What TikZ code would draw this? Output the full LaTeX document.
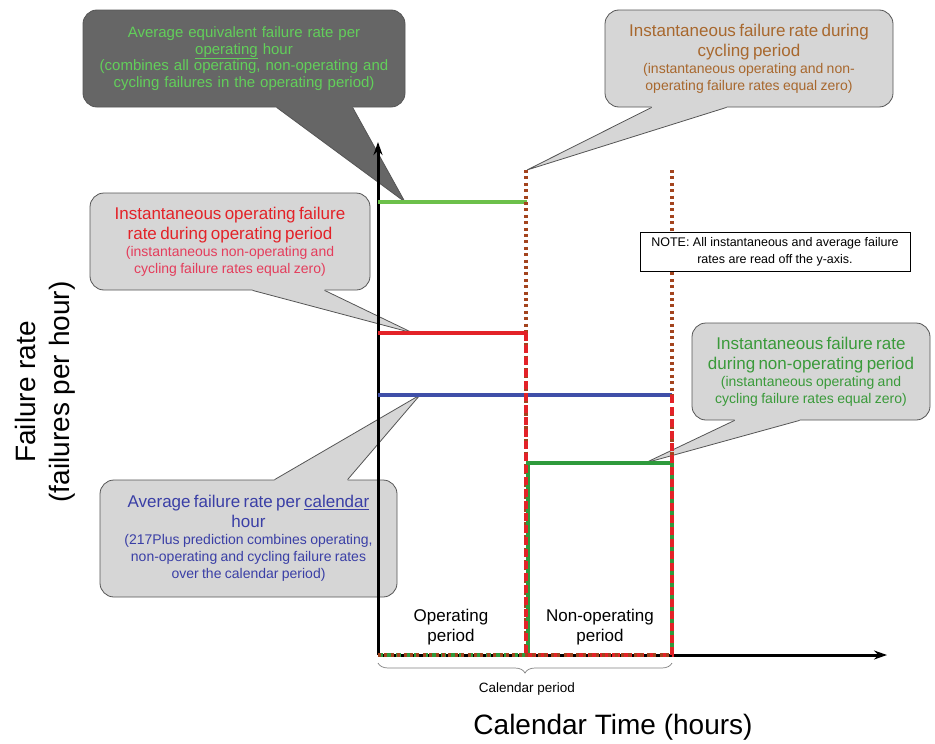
\documentclass[tikz,border=0pt]{standalone}
\usepackage{fontspec}
\setmainfont{Liberation Sans}
\usepackage{tikz}
\usetikzlibrary{arrows.meta,positioning,calc,decorations.pathreplacing}
\usepackage{xcolor}
\definecolor{boxgray}{HTML}{D6D6D6}
\definecolor{boxdark}{HTML}{666666}
\definecolor{edgegray}{HTML}{555555}
\definecolor{lgreen}{HTML}{6CC04A}
\definecolor{tgreen}{HTML}{62CF5A}
\definecolor{rred}{HTML}{E32228}
\definecolor{tpink}{HTML}{E43D5C}
\definecolor{rblue}{HTML}{3F4FA8}
\definecolor{tblue}{HTML}{3A3FA6}
\definecolor{dgreen}{HTML}{2E9A3C}
\definecolor{tdgreen}{HTML}{3A9A3A}
\definecolor{rbrown}{HTML}{A3441E}
\definecolor{tbrown}{HTML}{A8682E}

\newcommand{\calhead}{\fontsize{17}{20}\selectfont}
\newcommand{\calsmall}{\fontsize{14}{17}\selectfont}
% pointer of a callout: corner, x1, x2, inward shift, tip, fill
\newcommand{\callptr}[6]{%
  \fill[#6] ($(#1)+(#2,#4)$) -- ($(#1)+(#2,0)$) -- (#5) -- ($(#1)+(#3,0)$) -- ($(#1)+(#3,#4)$) -- cycle;
  \draw[calledge] ($(#1)+(#2,0)$) -- (#5) -- ($(#1)+(#3,0)$);}

\tikzset{
  callbox/.style={draw=edgegray,fill=boxgray,line width=0.8pt,rounded corners=14pt,align=center,inner sep=0pt},
  calledge/.style={edgegray,line width=0.8pt},
  rate/.style={line width=3.6pt},
  cycdots/.style={rbrown,line width=3.2pt,dash pattern=on 3pt off 3.4pt},
  reddash/.style={rred,line width=3.6pt,dash pattern=on 8pt off 4pt},
  greendash/.style={dgreen,line width=3.6pt,dash pattern=on 5pt off 4pt},
  axis/.style={line width=3pt,-{Stealth[length=13pt,width=9pt]}},
}

\begin{document}
\begin{tikzpicture}[x=1pt,y=-1pt]
\useasboundingbox (0,0) rectangle (935,744);

% callouts
\node[callbox,fill=boxdark,text=tgreen,minimum width=322pt,minimum height=97pt,text width=314pt,font={\fontsize{15}{16.5}\selectfont}] (avgop) at (244,58.5)
  {Average equivalent failure rate per\\ \underline{operating} hour\\ (combines all operating, non-operating and\\ cycling failures in the operating period)};
\coordinate (optip) at (405,202);
\callptr{avgop.south west}{194}{270}{-2}{optip}{boxdark}

\node[callbox,text=tbrown,minimum width=288pt,minimum height=97pt,text width=280pt] (cyc) at (749,58.5)
  {\calhead Instantaneous failure rate during\\ cycling period\par
   \calsmall (instantaneous operating and non-\\ operating failure rates equal zero)\par};
\coordinate (cyctip) at (527,170);
\callptr{cyc.south west}{47}{122}{-2}{cyctip}{boxgray}

\node[callbox,text=rred,minimum width=280pt,minimum height=97pt,text width=272pt] (instop) at (230,241.5)
  {\calhead Instantaneous operating failure\\ rate during operating period\par
   \color{tpink}\calsmall (instantaneous non-operating and\\ cycling failure rates equal zero)\par};
\coordinate (redtip) at (413,333);
\callptr{instop.south west}{163}{235}{-2}{redtip}{boxgray}

\node[callbox,text=tdgreen,minimum width=238pt,minimum height=97pt,text width=232pt] (nonop) at (811,371.5)
  {\calhead Instantaneous failure rate\\ during non-operating period\par
   \calsmall (instantaneous operating and\\ cycling failure rates equal zero)\par};
\coordinate (nontip) at (645,463);
\callptr{nonop.south west}{43}{108}{-2}{nontip}{boxgray}

\node[callbox,text=tblue,minimum width=297pt,minimum height=117pt,text width=290pt] (avgcal) at (248.5,538.5)
  {\calhead Average failure rate per \underline{calendar}\\ hour\par
   \calsmall (217Plus prediction combines operating,\\ non-operating and cycling failure rates\\ over the calendar period)\par};
\coordinate (caltip) at (420,395);
\callptr{avgcal.north west}{175}{248}{2}{caltip}{boxgray}

% axes
\coordinate (O) at (378,655);
\coordinate (ytop) at (378,142);
\coordinate (xtip) at (887,655);
\draw[axis] (O) -- (ytop);
\draw[axis] (O) -- (xtip);

% failure rates
\draw[rate,lgreen] (378,202) -- (527,202);
\draw[rate,rblue] (378,395) -- (672,395);
\draw[cycdots] (526,170) -- (526,655);
\draw[cycdots] (672,170) -- (672,655);
\draw[rate,rred] (378,333) -- (527,333);
\draw[rate,dgreen] (528,655) -- (528,463) -- (672,463) -- (672,655);
\draw[greendash] (378,655) -- (527,655);
\draw[reddash] (526,333) -- (526,655) -- (672,655) -- (672,393);
\draw[cycdots] (378,655) -- (672,655);

% note
\node[draw,fill=white,line width=0.6pt,minimum width=270pt,minimum height=39pt,inner sep=0pt,align=center,font={\fontsize{12.5}{17}\selectfont}] (note) at (775,251.5)
  {NOTE: All instantaneous and average failure\\ rates are read off the y-axis.};

% periods and labels
\node[align=center,font={\fontsize{17}{20}\selectfont}] (opper) at (451,627) {Operating\\ period};
\node[align=center,font={\fontsize{17}{20}\selectfont}] (nonper) at (600,627) {Non-operating\\ period};
\coordinate (bl) at (378,663);
\coordinate (br) at (672,663);
\draw[gray,line width=0.7pt,decorate,decoration={brace,mirror,amplitude=10pt}] (bl) -- (br);
\node[font={\fontsize{13.5}{16}\selectfont}] (calper) at (527,689) {Calendar period};
\node[font={\fontsize{28}{32}\selectfont}] (xlab) at (613,727) {Calendar Time (hours)};
\node[rotate=90,font={\fontsize{28}{32}\selectfont}] (ylab) at (25,392) {Failure rate};
\node[rotate=90,font={\fontsize{28}{32}\selectfont}] (yunit) at (62,392) {(failures per hour)};
\end{tikzpicture}
\end{document}
